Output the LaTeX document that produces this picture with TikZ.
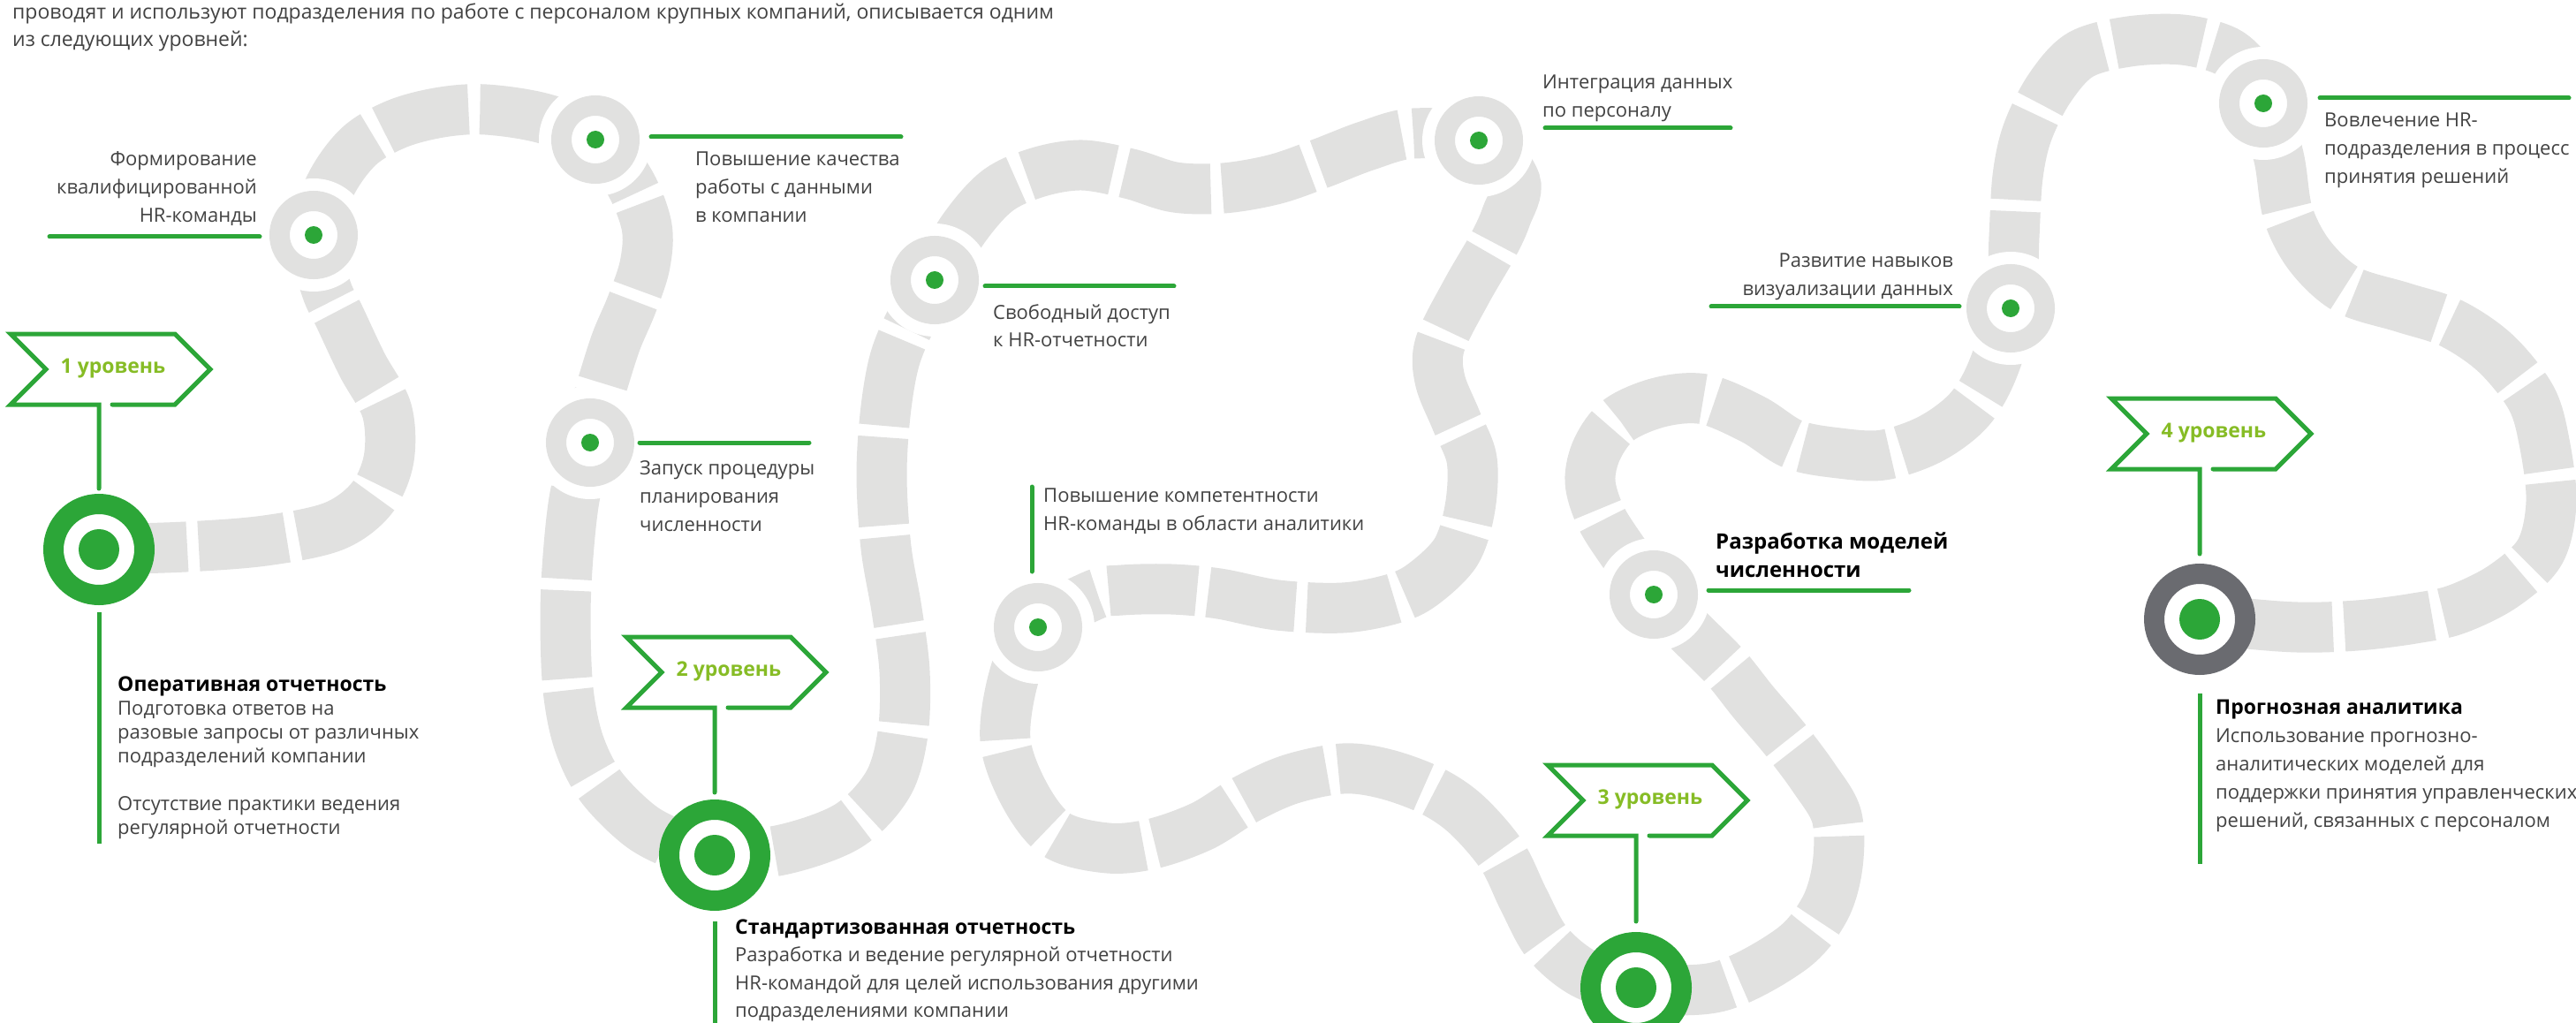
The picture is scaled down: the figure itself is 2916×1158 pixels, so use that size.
\documentclass[tikz,border=0pt]{standalone}
\usepackage{fontspec}
\setmainfont{Open Sans}
\definecolor{roadgray}{RGB}{225,225,224}
\definecolor{hrgreen}{RGB}{44,166,56}
\definecolor{lvlgreen}{RGB}{134,188,37}
\definecolor{ringgray}{RGB}{106,107,112}
\definecolor{txtgray}{RGB}{66,66,66}
\newcommand{\lefttab}[1]{\begin{tabular}[t]{@{}l@{}}#1\end{tabular}}
\newcommand{\righttab}[1]{\begin{tabular}[t]{@{}r@{}}#1\end{tabular}}
\newcommand{\levelflag}[5]{%
  \draw[flagline] ({#2+115},{#3+80}) -- ({#2+186},{#3+80}) -- ({#2+226},{#3+40}) -- ({#2+186},#3) -- (#2,#3) -- ({#2+40},{#3+40}) -- (#2,{#3+80}) -- ({#2+100},{#3+80}) -- ({#2+100},#5);
  \node[flagtext] (#1) at ({#2+116},{#3+39}) {#4};}
\begin{document}
\begin{tikzpicture}[x=1pt,y=-1pt,
  road/.style={draw=roadgray, line width=57pt, dash pattern=on 100pt off 13pt},
  msring/.style={circle, draw=roadgray, line width=23pt, fill=white, minimum size=77pt, inner sep=0pt},
  lvlring/.style={circle, draw=hrgreen, line width=23pt, fill=white, minimum size=103pt, inner sep=0pt},
  lvlgray/.style={lvlring, draw=ringgray},
  rule/.style={draw=hrgreen, line width=5pt, line cap=round},
  pole/.style={draw=hrgreen, line width=5pt},
  flagline/.style={draw=hrgreen, line width=5pt, line join=miter, line cap=round},
  flagtext/.style={inner sep=0pt, anchor=center, text=lvlgreen, font={\fontsize{23pt}{27pt}\selectfont\bfseries}},
  lbl/.style={inner sep=0pt, text=txtgray, font={\fontsize{22pt}{32pt}\selectfont}},
  desc/.style={inner sep=0pt, text=txtgray, anchor=base west}
]
\useasboundingbox (0,0) rectangle (2916,1158);
\clip (0,0) rectangle (2916,1158);

% key points
\coordinate (l1) at (112,622);
\coordinate (l2) at (809,968);
\coordinate (l3) at (1852,1118);
\coordinate (l4) at (2490,701);
\coordinate (m1) at (355,266);
\coordinate (m2) at (674,158);
\coordinate (m3) at (668,501);
\coordinate (m4) at (1058,317);
\coordinate (m5) at (1175,710);
\coordinate (m6) at (1674,159);
\coordinate (m7) at (2276,349);
\coordinate (m8) at (2562,117);
\coordinate (m9) at (1872,673);

% road
\draw[road] plot[smooth, tension=0.55] coordinates {
 (l1) (210,619) (300,612) (377,596) (420,565) (440,520) (438,465) (410,413) (385,360) (369,326)
 (m1) (375,208) (407,165) (450,140) (500,127) (550,124) (615,134)
 (m2) (712,205) (732,256) (730,300) (715,345) (698,385) (685,425) (675,460)
 (m3) (651,560) (643,630) (640,700) (643,780) (655,840) (680,890) (725,935) (770,958)
 (l2) (885,962) (960,935) (1005,888) (1022,830) (1024,760) (1015,690) (1003,620) (998,540) (1002,470) (1012,410) (1030,365)
 (m4) (1090,260) (1129,216) (1175,195) (1225,187) (1280,197) (1330,212) (1385,213) (1443,203) (1495,185) (1547,165) (1600,151)
 (m6) (1715,205) (1705,245) (1690,278) (1660,330) (1630,390) (1630,430) (1648,475) (1666,520) (1664,575) (1648,625) (1610,662) (1576,678) (1520,688) (1446,685) (1380,672) (1326,667) (1270,668) (1237,674)
 (m5) (1148,765) (1138,838) (1160,900) (1196,945) (1254,960) (1305,955) (1361,935) (1410,905) (1461,882) (1520,870) (1568,876) (1620,895) (1660,922) (1700,968) (1725,1019) (1752,1068) (1795,1103)
 (l3) (1945,1117) (2027,1075) (2065,1030) (2080,980) (2079,924) (2053,880) (2020,836) (1985,795) (1953,755) (1914,716)
 (m9) (1838,626) (1812,585) (1800,545) (1808,508) (1833,475) (1880,455) (1930,452) (1985,475) (2030,503) (2082,513) (2132,515) (2185,497) (2228,465) (2255,420)
 (m7) (2280,268) (2284,200) (2295,150) (2320,100) (2355,62) (2410,47) (2470,45) (2520,58) (2548,85)
 (m8) (2580,180) (2590,242) (2615,290) (2657,328) (2720,348) (2775,366) (2825,400) (2865,450) (2880,500) (2888,568) (2875,625) (2833,664) (2780,690) (2733,700) (2680,707) (2628,710) (2580,709)
 (l4)};

% milestones
\foreach \m/\M in {m1/M1,m2/M2,m3/M3,m4/M4,m5/M5,m6/M6,m7/M7,m8/M8,m9/M9}{
  \fill[white] (\m) circle (64pt);
  \node[msring] (\M) at (\m) {};
  \fill[hrgreen] (\m) circle (10pt);
}

% level circles
\node[lvlring] (L1) at (l1) {};
\node[lvlring] (L2) at (l2) {};
\node[lvlring] (L3) at (l3) {};
\node[lvlgray] (L4) at (l4) {};
\foreach \c in {l1,l2,l3,l4}{\fill[hrgreen] (\c) circle (23pt);}

% flags
\levelflag{F1}{12}{378}{1 уровень}{553}
\levelflag{F2}{709}{721}{2 уровень}{897}
\levelflag{F3}{1752}{866}{3 уровень}{1043}
\levelflag{F4}{2390}{451}{4 уровень}{627}

% header
\node[lbl, anchor=base west, font={\fontsize{23pt}{31pt}\selectfont}] (hdr) at (14,22) {\lefttab{проводят и используют подразделения по работе с персоналом крупных компаний, описывается одним\\ из следующих уровней:}};

% milestone labels and rules
\node[lbl, anchor=base east] (t1) at (291,188) {\righttab{Формирование\\ квалифицированной\\ HR-команды}};
\draw[rule] (56,268) coordinate (r1a) -- (294,268) coordinate (r1b);

\node[lbl, anchor=base west] (t2) at (787,188) {\lefttab{Повышение качества\\ работы с данными\\ в компании}};
\draw[rule] (737,155) coordinate (r2a) -- (1020,155) coordinate (r2b);

\node[lbl, anchor=base west] (t3) at (724,537) {\lefttab{Запуск процедуры\\ планирования\\ численности}};
\draw[rule] (724,501) coordinate (r3a) -- (916,501) coordinate (r3b);

\node[lbl, anchor=base west] (t4) at (1124,361) {\lefttab{Свободный доступ\\ к HR-отчетности}};
\draw[rule] (1115,324) coordinate (r4a) -- (1329,324) coordinate (r4b);

\node[lbl, anchor=base west] (t5) at (1181,568) {\lefttab{Повышение компетентности\\ HR-команды в области аналитики}};
\draw[rule] (1168,551) coordinate (r5a) -- (1168,647) coordinate (r5b);

\node[lbl, anchor=base west] (t6) at (1746,101) {\lefttab{Интеграция данных\\ по персоналу}};
\draw[rule] (1749,145) coordinate (r6a) -- (1959,145) coordinate (r6b);

\node[lbl, anchor=base east] (t7) at (2211,303) {\righttab{Развитие навыков\\ визуализации данных}};
\draw[rule] (1937,347) coordinate (r7a) -- (2218,347) coordinate (r7b);

\node[lbl, anchor=base west] (t8) at (2631,144) {\lefttab{Вовлечение HR-\\ подразделения в процесс\\ принятия решений}};
\draw[rule] (2626,111) coordinate (r8a) -- (2908,111) coordinate (r8b);

\node[lbl, anchor=base west, text=black, font={\fontsize{24pt}{32pt}\selectfont\bfseries}] (t9) at (1942,621) {\lefttab{Разработка моделей\\ численности}};
\draw[rule] (1934,668) coordinate (r9a) -- (2161,668) coordinate (r9b);

% level descriptions
\draw[pole] ([yshift=-8pt]L1.south) -- ++(0,262);
\node[desc, font={\fontsize{22pt}{27pt}\selectfont}] (d1) at (133,782) {\lefttab{\textcolor{black}{\fontsize{23pt}{27pt}\selectfont\bfseries Оперативная отчетность}\\ Подготовка ответов на\\ разовые запросы от различных\\ подразделений компании\\ \\ Отсутствие практики ведения\\ регулярной отчетности}};

\draw[pole] ([yshift=-12pt]L2.south) -- ++(0,130);
\node[desc, font={\fontsize{22pt}{31.5pt}\selectfont}] (d2) at (832,1057) {\lefttab{\textcolor{black}{\fontsize{23pt}{31.5pt}\selectfont\bfseries Стандартизованная отчетность}\\ Разработка и ведение регулярной отчетности\\ HR-командой для целей использования другими\\ подразделениями компании}};

\draw[pole] ([yshift=-21pt]L4.south) -- ++(0,193);
\node[desc, font={\fontsize{22pt}{32pt}\selectfont}] (d4) at (2508,808) {\lefttab{\textcolor{black}{\fontsize{23pt}{32pt}\selectfont\bfseries Прогнозная аналитика}\\ Использование прогнозно-\\ аналитических моделей для\\ поддержки принятия управленческих\\ решений, связанных с персоналом}};
\end{tikzpicture}
\end{document}
